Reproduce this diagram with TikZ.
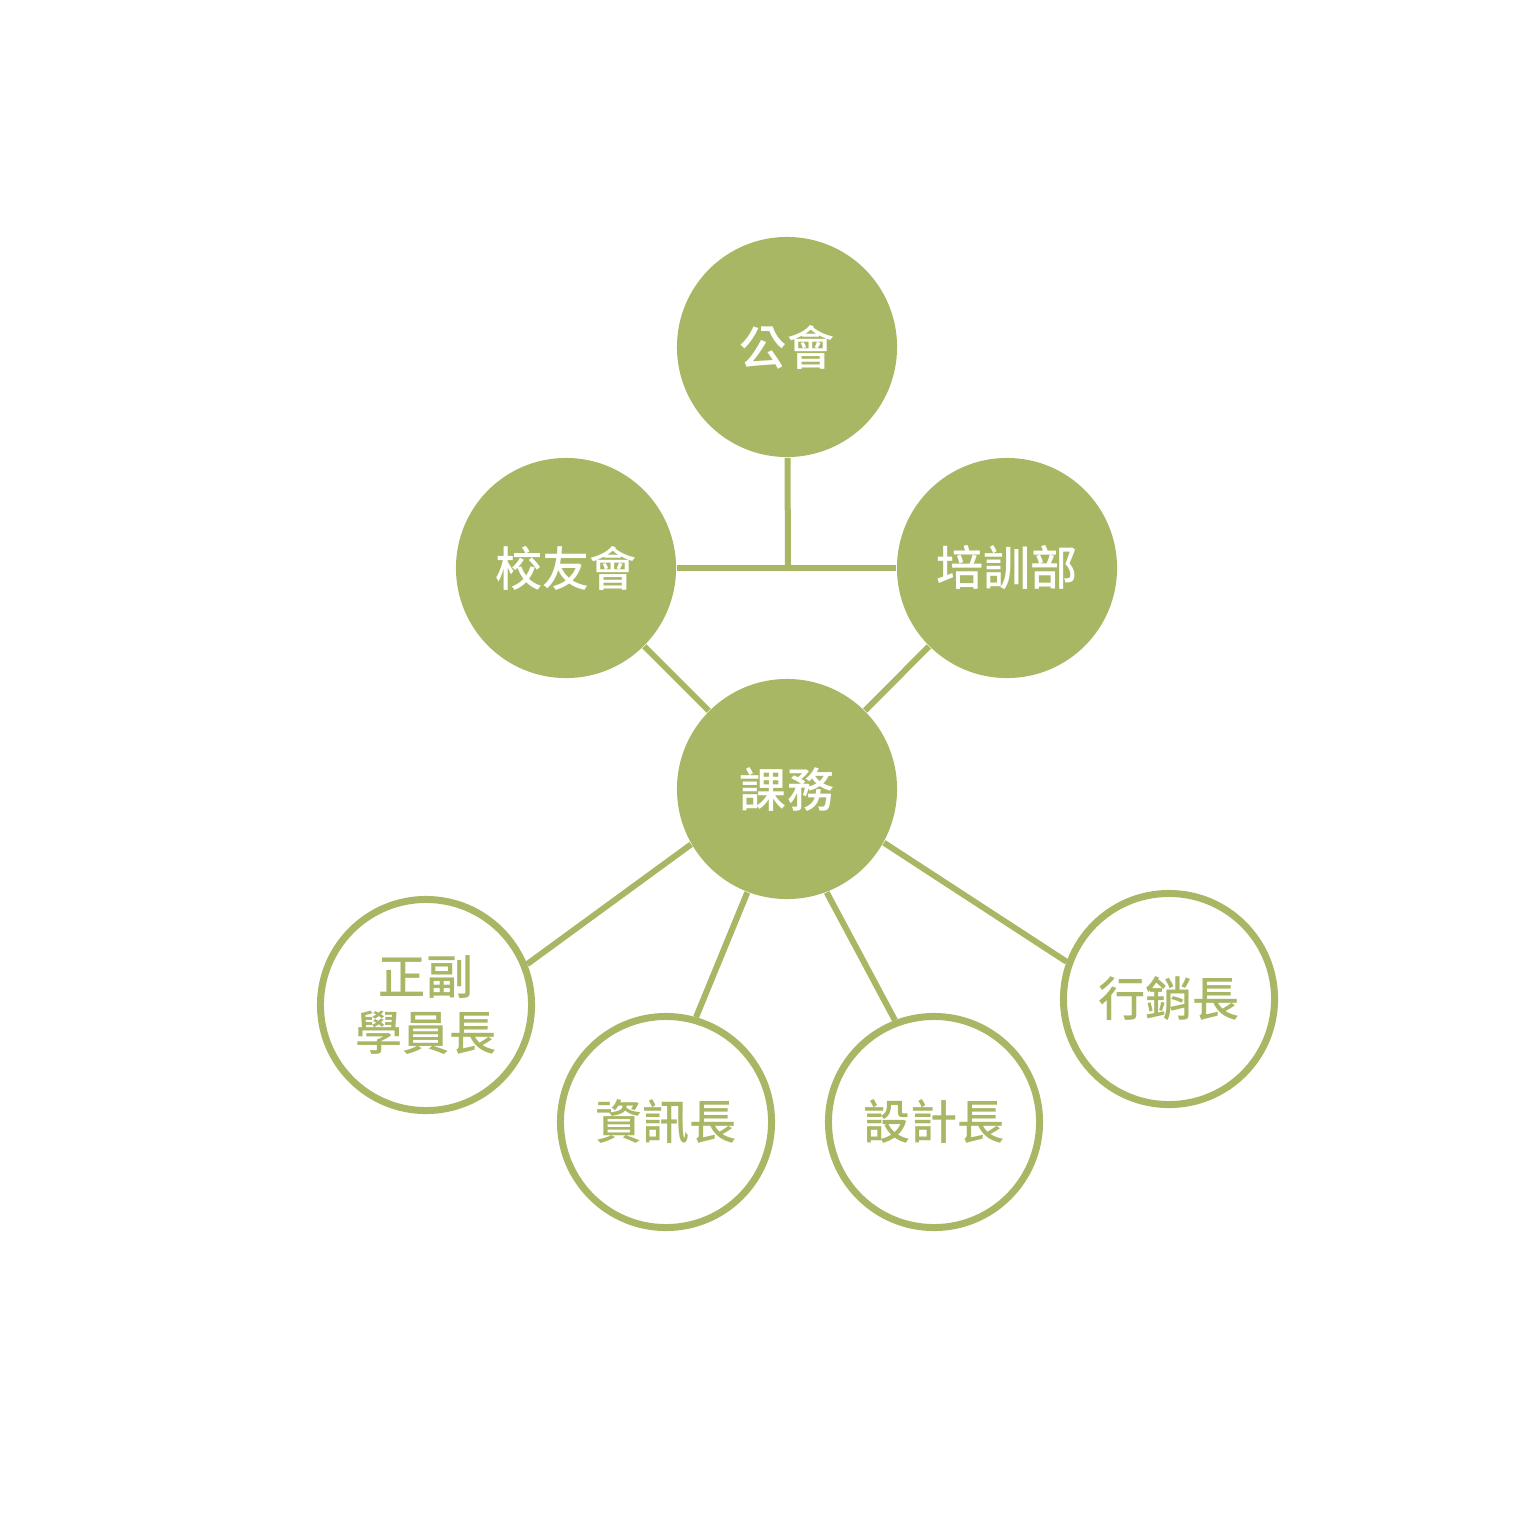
\documentclass[tikz,border=0pt]{standalone}
\usepackage{fontspec}
\setmainfont{Noto Sans CJK TC}[BoldFont={Noto Sans CJK TC Medium}]
\definecolor{olive}{HTML}{A8B764}
\begin{document}
\begin{tikzpicture}[line cap=butt, x=0.01cm, y=-0.01cm,
    unit/.style={circle, fill=olive, minimum size=2.2cm, inner sep=0pt,
      text=white, font=\fontsize{13.4}{16}\selectfont\bfseries},
    role/.style={circle, draw=olive, line width=0.07cm, fill=white,
      minimum size=2.11cm, inner sep=0pt, text=olive, align=center,
      font=\fontsize{13.4}{15.8}\selectfont\bfseries},
    link/.style={draw=olive, line width=0.06cm}]

  \useasboundingbox (0,0) rectangle (1531,1530);

  \node[unit] (guild) at (787,347) {公會};
  \node[unit] (alumni) at (566,568) {校友會};
  \node[unit] (training) at (1007,568) {培訓部};
  \node[unit] (course) at (787,789) {課務};
  \coordinate (join) at (788,568);

  \node[role] (leader) at (426,1005) {正副\\學員長};
  \node[role] (info) at (666,1122) {資訊長};
  \node[role] (design) at (934,1122) {設計長};
  \node[role] (market) at (1169,999) {行銷長};

  \draw[link] (guild) -- (join);
  \draw[link] (alumni) -- (training);
  \draw[link] (alumni) -- (course);
  \draw[link] (training) -- (course);

  \draw[link] (course.210.5) -- (leader.22.4);
  \draw[link] (course.249.4) -- (info.74.8);
  \draw[link] (course.291.7) -- (design.111.5);
  \draw[link] (course.331.6) -- (market.160);

\end{tikzpicture}
\end{document}
